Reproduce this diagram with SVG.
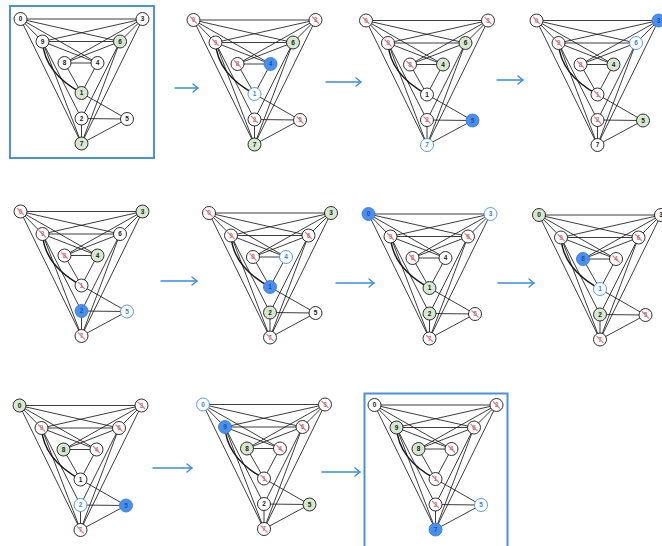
<svg xmlns="http://www.w3.org/2000/svg" xmlns:xlink="http://www.w3.org/1999/xlink" width="662" height="546" viewBox="0 0 662 546">
<style>
.e{fill:none;stroke:#1a1a1a;stroke-width:0.85}
.c{fill:none;stroke:#1a1a1a;stroke-width:1.5}
.nd circle{stroke:#1a1a1a;stroke-width:0.9;fill:#fff}
.nd text{font-family:"Liberation Sans",Arial,sans-serif;font-size:6.5px;font-weight:bold;text-anchor:middle;fill:#1a1a1a}
.g circle{fill:#d6e8cf}
.b circle{fill:#4a8ff0;stroke:#3a7ee0}
.b text{fill:#1c4f9e}
.o circle{stroke:#4a90e2}
.o text{fill:#3a80dd}
.x text{fill:#b08080}
.x line{stroke:#e06a6a;stroke-width:1.1;opacity:.85}
.box{fill:none;stroke:#4a90e2;stroke-width:2}
.arr{fill:none;stroke:#3d8be0;stroke-width:1.4;stroke-linecap:round;stroke-linejoin:round}
</style>
<defs>
<g id="edges">
<path class="e" d="M0,0L122,0M0,0L22,22.5M0,0L99.5,22.5M0,0L77,44M0,0L61,124.5M122,0L22,22.5M122,0L44,44M122,0L99.5,22.5M122,0L61,124.5M22,22.5L99.5,22.5M22,22.5L77,44M22,22.5L61,99.5M22,22.5L61,124.5M99.5,22.5L44,44M99.5,22.5L61,99.5M99.5,22.5L61,124.5M44,44L77,44M44,44L61,74M77,44L61,74M61,74L106.5,100M61,99.5L106.5,100M61,99.5L61,124.5M106.5,100L61,124.5"/>
<path class="c" d="M22,22.5Q24,54 61,74"/>
</g>
<marker id="ah" markerWidth="8" markerHeight="10" refX="6" refY="5" orient="auto" markerUnits="userSpaceOnUse">
<path d="M1,1L6,5L1,9" fill="none" stroke="#3d8be0" stroke-width="1.4" stroke-linecap="round" stroke-linejoin="round"/>
</marker>
</defs>
<rect class="box" x="10" y="6" width="144" height="152"/>
<rect class="box" x="364.5" y="393.5" width="143" height="160"/>
<g id="connectors">
<use xlink:href="#edges" transform="translate(20.5,19)"/>
<use xlink:href="#edges" transform="translate(193.5,20)"/>
<use xlink:href="#edges" transform="translate(366,20.5)"/>
<use xlink:href="#edges" transform="translate(536.5,20.5)"/>
<use xlink:href="#edges" transform="translate(20.5,211.5)"/>
<use xlink:href="#edges" transform="translate(209,213)"/>
<use xlink:href="#edges" transform="translate(368.5,214)"/>
<use xlink:href="#edges" transform="translate(539,215)"/>
<use xlink:href="#edges" transform="translate(19.5,405.5)"/>
<use xlink:href="#edges" transform="translate(203,404.5)"/>
<use xlink:href="#edges" transform="translate(374.5,405)"/>
</g>
<g id="arrows">
<path class="arr" d="M175,88H198" marker-end="url(#ah)"/>
<path class="arr" d="M326,82H361" marker-end="url(#ah)"/>
<path class="arr" d="M497,80H523" marker-end="url(#ah)"/>
<path class="arr" d="M161,281H197" marker-end="url(#ah)"/>
<path class="arr" d="M336,283H374" marker-end="url(#ah)"/>
<path class="arr" d="M498,283H534" marker-end="url(#ah)"/>
<path class="arr" d="M153,468H192" marker-end="url(#ah)"/>
<path class="arr" d="M322,472H360" marker-end="url(#ah)"/>
</g>
<!-- Graph 1 -->
<g id="graph1" transform="translate(20.5,19)">
<g id="g1n0" class="nd w"><circle r="6.5"/><text y="2.3">0</text></g>
<g id="g1n3" class="nd w" transform="translate(122,0)"><circle r="6.5"/><text y="2.3">3</text></g>
<g id="g1n9" class="nd w" transform="translate(22,22.5)"><circle r="6.5"/><text y="2.3">9</text></g>
<g id="g1n6" class="nd g" transform="translate(99.5,22.5)"><circle r="6.5"/><text y="2.3">6</text></g>
<g id="g1n8" class="nd w" transform="translate(44,44)"><circle r="6.5"/><text y="2.3">8</text></g>
<g id="g1n4" class="nd w" transform="translate(77,44)"><circle r="6.5"/><text y="2.3">4</text></g>
<g id="g1n1" class="nd g" transform="translate(61,74)"><circle r="6.5"/><text y="2.3">1</text></g>
<g id="g1n2" class="nd w" transform="translate(61,99.5)"><circle r="6.5"/><text y="2.3">2</text></g>
<g id="g1n5" class="nd w" transform="translate(106.5,100)"><circle r="6.5"/><text y="2.3">5</text></g>
<g id="g1n7" class="nd g" transform="translate(61,124.5)"><circle r="6.5"/><text y="2.3">7</text></g>
</g>
<!-- Graph 2 -->
<g id="graph2" transform="translate(193.5,20)">
<g id="g2n0" class="nd x"><circle r="6.5"/><text y="2.3">0</text><line x1="-3.5" y1="-3.5" x2="3.5" y2="3.5"/></g>
<g id="g2n3" class="nd x" transform="translate(122,0)"><circle r="6.5"/><text y="2.3">3</text><line x1="-3.5" y1="-3.5" x2="3.5" y2="3.5"/></g>
<g id="g2n9" class="nd x" transform="translate(22,22.5)"><circle r="6.5"/><text y="2.3">9</text><line x1="-3.5" y1="-3.5" x2="3.5" y2="3.5"/></g>
<g id="g2n6" class="nd g" transform="translate(99.5,22.5)"><circle r="6.5"/><text y="2.3">6</text></g>
<g id="g2n8" class="nd x" transform="translate(44,44)"><circle r="6.5"/><text y="2.3">8</text><line x1="-3.5" y1="-3.5" x2="3.5" y2="3.5"/></g>
<g id="g2n4" class="nd b" transform="translate(77,44)"><circle r="6.5"/><text y="2.3">4</text></g>
<g id="g2n1" class="nd o" transform="translate(61,74)"><circle r="6.5"/><text y="2.3">1</text></g>
<g id="g2n2" class="nd x" transform="translate(61,99.5)"><circle r="6.5"/><text y="2.3">2</text><line x1="-3.5" y1="-3.5" x2="3.5" y2="3.5"/></g>
<g id="g2n5" class="nd x" transform="translate(106.5,100)"><circle r="6.5"/><text y="2.3">5</text><line x1="-3.5" y1="-3.5" x2="3.5" y2="3.5"/></g>
<g id="g2n7" class="nd g" transform="translate(61,124.5)"><circle r="6.5"/><text y="2.3">7</text></g>
</g>
<!-- Graph 3 -->
<g id="graph3" transform="translate(366,20.5)">
<g id="g3n0" class="nd x"><circle r="6.5"/><text y="2.3">0</text><line x1="-3.5" y1="-3.5" x2="3.5" y2="3.5"/></g>
<g id="g3n3" class="nd x" transform="translate(122,0)"><circle r="6.5"/><text y="2.3">3</text><line x1="-3.5" y1="-3.5" x2="3.5" y2="3.5"/></g>
<g id="g3n9" class="nd x" transform="translate(22,22.5)"><circle r="6.5"/><text y="2.3">9</text><line x1="-3.5" y1="-3.5" x2="3.5" y2="3.5"/></g>
<g id="g3n6" class="nd g" transform="translate(99.5,22.5)"><circle r="6.5"/><text y="2.3">6</text></g>
<g id="g3n8" class="nd x" transform="translate(44,44)"><circle r="6.5"/><text y="2.3">8</text><line x1="-3.5" y1="-3.5" x2="3.5" y2="3.5"/></g>
<g id="g3n4" class="nd g" transform="translate(77,44)"><circle r="6.5"/><text y="2.3">4</text></g>
<g id="g3n1" class="nd w" transform="translate(61,74)"><circle r="6.5"/><text y="2.3">1</text></g>
<g id="g3n2" class="nd x" transform="translate(61,99.5)"><circle r="6.5"/><text y="2.3">2</text><line x1="-3.5" y1="-3.5" x2="3.5" y2="3.5"/></g>
<g id="g3n5" class="nd b" transform="translate(106.5,100)"><circle r="6.5"/><text y="2.3">5</text></g>
<g id="g3n7" class="nd o" transform="translate(61,124.5)"><circle r="6.5"/><text y="2.3">7</text></g>
</g>
<!-- Graph 4 -->
<g id="graph4" transform="translate(536.5,20.5)">
<g id="g4n0" class="nd x"><circle r="6.5"/><text y="2.3">0</text><line x1="-3.5" y1="-3.5" x2="3.5" y2="3.5"/></g>
<g id="g4n3" class="nd b" transform="translate(122,0)"><circle r="6.5"/><text y="2.3">3</text></g>
<g id="g4n9" class="nd x" transform="translate(22,22.5)"><circle r="6.5"/><text y="2.3">9</text><line x1="-3.5" y1="-3.5" x2="3.5" y2="3.5"/></g>
<g id="g4n6" class="nd o" transform="translate(99.5,22.5)"><circle r="6.5"/><text y="2.3">6</text></g>
<g id="g4n8" class="nd x" transform="translate(44,44)"><circle r="6.5"/><text y="2.3">8</text><line x1="-3.5" y1="-3.5" x2="3.5" y2="3.5"/></g>
<g id="g4n4" class="nd g" transform="translate(77,44)"><circle r="6.5"/><text y="2.3">4</text></g>
<g id="g4n1" class="nd x" transform="translate(61,74)"><circle r="6.5"/><text y="2.3">1</text><line x1="-3.5" y1="-3.5" x2="3.5" y2="3.5"/></g>
<g id="g4n2" class="nd x" transform="translate(61,99.5)"><circle r="6.5"/><text y="2.3">2</text><line x1="-3.5" y1="-3.5" x2="3.5" y2="3.5"/></g>
<g id="g4n5" class="nd g" transform="translate(106.5,100)"><circle r="6.5"/><text y="2.3">5</text></g>
<g id="g4n7" class="nd w" transform="translate(61,124.5)"><circle r="6.5"/><text y="2.3">7</text></g>
</g>
<!-- Graph 5 -->
<g id="graph5" transform="translate(20.5,211.5)">
<g id="g5n0" class="nd x"><circle r="6.5"/><text y="2.3">0</text><line x1="-3.5" y1="-3.5" x2="3.5" y2="3.5"/></g>
<g id="g5n3" class="nd g" transform="translate(122,0)"><circle r="6.5"/><text y="2.3">3</text></g>
<g id="g5n9" class="nd x" transform="translate(22,22.5)"><circle r="6.5"/><text y="2.3">9</text><line x1="-3.5" y1="-3.5" x2="3.5" y2="3.5"/></g>
<g id="g5n6" class="nd w" transform="translate(99.5,22.5)"><circle r="6.5"/><text y="2.3">6</text></g>
<g id="g5n8" class="nd x" transform="translate(44,44)"><circle r="6.5"/><text y="2.3">8</text><line x1="-3.5" y1="-3.5" x2="3.5" y2="3.5"/></g>
<g id="g5n4" class="nd g" transform="translate(77,44)"><circle r="6.5"/><text y="2.3">4</text></g>
<g id="g5n1" class="nd x" transform="translate(61,74)"><circle r="6.5"/><text y="2.3">1</text><line x1="-3.5" y1="-3.5" x2="3.5" y2="3.5"/></g>
<g id="g5n2" class="nd b" transform="translate(61,99.5)"><circle r="6.5"/><text y="2.3">2</text></g>
<g id="g5n5" class="nd o" transform="translate(106.5,100)"><circle r="6.5"/><text y="2.3">5</text></g>
<g id="g5n7" class="nd x" transform="translate(61,124.5)"><circle r="6.5"/><text y="2.3">7</text><line x1="-3.5" y1="-3.5" x2="3.5" y2="3.5"/></g>
</g>
<!-- Graph 6 -->
<g id="graph6" transform="translate(209,213)">
<g id="g6n0" class="nd x"><circle r="6.5"/><text y="2.3">0</text><line x1="-3.5" y1="-3.5" x2="3.5" y2="3.5"/></g>
<g id="g6n3" class="nd g" transform="translate(122,0)"><circle r="6.5"/><text y="2.3">3</text></g>
<g id="g6n9" class="nd x" transform="translate(22,22.5)"><circle r="6.5"/><text y="2.3">9</text><line x1="-3.5" y1="-3.5" x2="3.5" y2="3.5"/></g>
<g id="g6n6" class="nd x" transform="translate(99.5,22.5)"><circle r="6.5"/><text y="2.3">6</text><line x1="-3.5" y1="-3.5" x2="3.5" y2="3.5"/></g>
<g id="g6n8" class="nd x" transform="translate(44,44)"><circle r="6.5"/><text y="2.3">8</text><line x1="-3.5" y1="-3.5" x2="3.5" y2="3.5"/></g>
<g id="g6n4" class="nd o" transform="translate(77,44)"><circle r="6.5"/><text y="2.3">4</text></g>
<g id="g6n1" class="nd b" transform="translate(61,74)"><circle r="6.5"/><text y="2.3">1</text></g>
<g id="g6n2" class="nd g" transform="translate(61,99.5)"><circle r="6.5"/><text y="2.3">2</text></g>
<g id="g6n5" class="nd w" transform="translate(106.5,100)"><circle r="6.5"/><text y="2.3">5</text></g>
<g id="g6n7" class="nd x" transform="translate(61,124.5)"><circle r="6.5"/><text y="2.3">7</text><line x1="-3.5" y1="-3.5" x2="3.5" y2="3.5"/></g>
</g>
<!-- Graph 7 -->
<g id="graph7" transform="translate(368.5,214)">
<g id="g7n0" class="nd b"><circle r="6.5"/><text y="2.3">0</text></g>
<g id="g7n3" class="nd o" transform="translate(122,0)"><circle r="6.5"/><text y="2.3">3</text></g>
<g id="g7n9" class="nd x" transform="translate(22,22.5)"><circle r="6.5"/><text y="2.3">9</text><line x1="-3.5" y1="-3.5" x2="3.5" y2="3.5"/></g>
<g id="g7n6" class="nd x" transform="translate(99.5,22.5)"><circle r="6.5"/><text y="2.3">6</text><line x1="-3.5" y1="-3.5" x2="3.5" y2="3.5"/></g>
<g id="g7n8" class="nd x" transform="translate(44,44)"><circle r="6.5"/><text y="2.3">8</text><line x1="-3.5" y1="-3.5" x2="3.5" y2="3.5"/></g>
<g id="g7n4" class="nd w" transform="translate(77,44)"><circle r="6.5"/><text y="2.3">4</text></g>
<g id="g7n1" class="nd g" transform="translate(61,74)"><circle r="6.5"/><text y="2.3">1</text></g>
<g id="g7n2" class="nd g" transform="translate(61,99.5)"><circle r="6.5"/><text y="2.3">2</text></g>
<g id="g7n5" class="nd x" transform="translate(106.5,100)"><circle r="6.5"/><text y="2.3">5</text><line x1="-3.5" y1="-3.5" x2="3.5" y2="3.5"/></g>
<g id="g7n7" class="nd x" transform="translate(61,124.5)"><circle r="6.5"/><text y="2.3">7</text><line x1="-3.5" y1="-3.5" x2="3.5" y2="3.5"/></g>
</g>
<!-- Graph 8 -->
<g id="graph8" transform="translate(539,215)">
<g id="g8n0" class="nd g"><circle r="6.5"/><text y="2.3">0</text></g>
<g id="g8n3" class="nd w" transform="translate(122,0)"><circle r="6.5"/><text y="2.3">3</text></g>
<g id="g8n9" class="nd x" transform="translate(22,22.5)"><circle r="6.5"/><text y="2.3">9</text><line x1="-3.5" y1="-3.5" x2="3.5" y2="3.5"/></g>
<g id="g8n6" class="nd x" transform="translate(99.5,22.5)"><circle r="6.5"/><text y="2.3">6</text><line x1="-3.5" y1="-3.5" x2="3.5" y2="3.5"/></g>
<g id="g8n8" class="nd b" transform="translate(44,44)"><circle r="6.5"/><text y="2.3">8</text></g>
<g id="g8n4" class="nd x" transform="translate(77,44)"><circle r="6.5"/><text y="2.3">4</text><line x1="-3.5" y1="-3.5" x2="3.5" y2="3.5"/></g>
<g id="g8n1" class="nd o" transform="translate(61,74)"><circle r="6.5"/><text y="2.3">1</text></g>
<g id="g8n2" class="nd g" transform="translate(61,99.5)"><circle r="6.5"/><text y="2.3">2</text></g>
<g id="g8n5" class="nd x" transform="translate(106.5,100)"><circle r="6.5"/><text y="2.3">5</text><line x1="-3.5" y1="-3.5" x2="3.5" y2="3.5"/></g>
<g id="g8n7" class="nd x" transform="translate(61,124.5)"><circle r="6.5"/><text y="2.3">7</text><line x1="-3.5" y1="-3.5" x2="3.5" y2="3.5"/></g>
</g>
<!-- Graph 9 -->
<g id="graph9" transform="translate(19.5,405.5)">
<g id="g9n0" class="nd g"><circle r="6.5"/><text y="2.3">0</text></g>
<g id="g9n3" class="nd x" transform="translate(122,0)"><circle r="6.5"/><text y="2.3">3</text><line x1="-3.5" y1="-3.5" x2="3.5" y2="3.5"/></g>
<g id="g9n9" class="nd x" transform="translate(22,22.5)"><circle r="6.5"/><text y="2.3">9</text><line x1="-3.5" y1="-3.5" x2="3.5" y2="3.5"/></g>
<g id="g9n6" class="nd x" transform="translate(99.5,22.5)"><circle r="6.5"/><text y="2.3">6</text><line x1="-3.5" y1="-3.5" x2="3.5" y2="3.5"/></g>
<g id="g9n8" class="nd g" transform="translate(44,44)"><circle r="6.5"/><text y="2.3">8</text></g>
<g id="g9n4" class="nd x" transform="translate(77,44)"><circle r="6.5"/><text y="2.3">4</text><line x1="-3.5" y1="-3.5" x2="3.5" y2="3.5"/></g>
<g id="g9n1" class="nd w" transform="translate(61,74)"><circle r="6.5"/><text y="2.3">1</text></g>
<g id="g9n2" class="nd o" transform="translate(61,99.5)"><circle r="6.5"/><text y="2.3">2</text></g>
<g id="g9n5" class="nd b" transform="translate(106.5,100)"><circle r="6.5"/><text y="2.3">5</text></g>
<g id="g9n7" class="nd x" transform="translate(61,124.5)"><circle r="6.5"/><text y="2.3">7</text><line x1="-3.5" y1="-3.5" x2="3.5" y2="3.5"/></g>
</g>
<!-- Graph 10 -->
<g id="graph10" transform="translate(203,404.5)">
<g id="g10n0" class="nd o"><circle r="6.5"/><text y="2.3">0</text></g>
<g id="g10n3" class="nd x" transform="translate(122,0)"><circle r="6.5"/><text y="2.3">3</text><line x1="-3.5" y1="-3.5" x2="3.5" y2="3.5"/></g>
<g id="g10n9" class="nd b" transform="translate(22,22.5)"><circle r="6.5"/><text y="2.3">9</text></g>
<g id="g10n6" class="nd x" transform="translate(99.5,22.5)"><circle r="6.5"/><text y="2.3">6</text><line x1="-3.5" y1="-3.5" x2="3.5" y2="3.5"/></g>
<g id="g10n8" class="nd g" transform="translate(44,44)"><circle r="6.5"/><text y="2.3">8</text></g>
<g id="g10n4" class="nd x" transform="translate(77,44)"><circle r="6.5"/><text y="2.3">4</text><line x1="-3.5" y1="-3.5" x2="3.5" y2="3.5"/></g>
<g id="g10n1" class="nd x" transform="translate(61,74)"><circle r="6.5"/><text y="2.3">1</text><line x1="-3.5" y1="-3.5" x2="3.5" y2="3.5"/></g>
<g id="g10n2" class="nd w" transform="translate(61,99.5)"><circle r="6.5"/><text y="2.3">2</text></g>
<g id="g10n5" class="nd g" transform="translate(106.5,100)"><circle r="6.5"/><text y="2.3">5</text></g>
<g id="g10n7" class="nd x" transform="translate(61,124.5)"><circle r="6.5"/><text y="2.3">7</text><line x1="-3.5" y1="-3.5" x2="3.5" y2="3.5"/></g>
</g>
<!-- Graph 11 -->
<g id="graph11" transform="translate(374.5,405)">
<g id="g11n0" class="nd w"><circle r="6.5"/><text y="2.3">0</text></g>
<g id="g11n3" class="nd x" transform="translate(122,0)"><circle r="6.5"/><text y="2.3">3</text><line x1="-3.5" y1="-3.5" x2="3.5" y2="3.5"/></g>
<g id="g11n9" class="nd g" transform="translate(22,22.5)"><circle r="6.5"/><text y="2.3">9</text></g>
<g id="g11n6" class="nd x" transform="translate(99.5,22.5)"><circle r="6.5"/><text y="2.3">6</text><line x1="-3.5" y1="-3.5" x2="3.5" y2="3.5"/></g>
<g id="g11n8" class="nd g" transform="translate(44,44)"><circle r="6.5"/><text y="2.3">8</text></g>
<g id="g11n4" class="nd x" transform="translate(77,44)"><circle r="6.5"/><text y="2.3">4</text><line x1="-3.5" y1="-3.5" x2="3.5" y2="3.5"/></g>
<g id="g11n1" class="nd x" transform="translate(61,74)"><circle r="6.5"/><text y="2.3">1</text><line x1="-3.5" y1="-3.5" x2="3.5" y2="3.5"/></g>
<g id="g11n2" class="nd x" transform="translate(61,99.5)"><circle r="6.5"/><text y="2.3">2</text><line x1="-3.5" y1="-3.5" x2="3.5" y2="3.5"/></g>
<g id="g11n5" class="nd o" transform="translate(106.5,100)"><circle r="6.5"/><text y="2.3">5</text></g>
<g id="g11n7" class="nd b" transform="translate(61,124.5)"><circle r="6.5"/><text y="2.3">7</text></g>
</g>
</svg>
